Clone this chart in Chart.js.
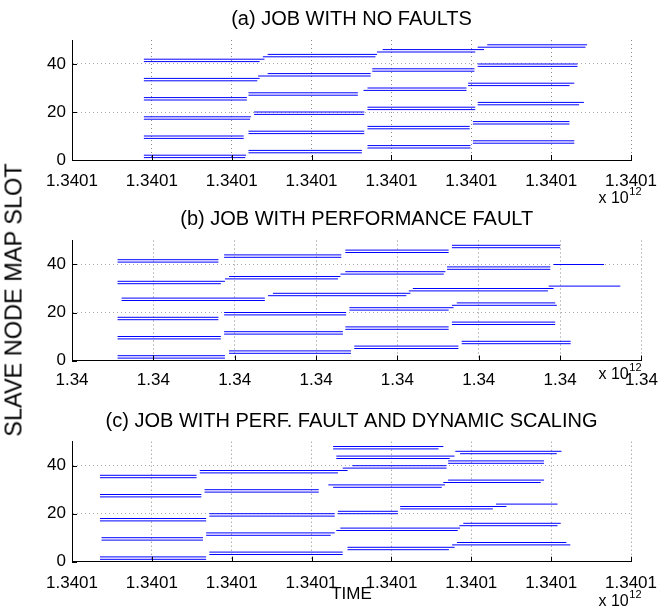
<!DOCTYPE html>
<html>
<head>
<meta charset="utf-8">
<script src="https://cdn.jsdelivr.net/npm/chart.js@4.4.0/dist/chart.umd.min.js"></script>
<style>
  html, body { margin: 0; padding: 0; background: #fff; }
  #page { position: relative; width: 668px; height: 611px; overflow: hidden;
          font-family: "Liberation Sans", Arial, sans-serif; }
  .panel { position: absolute; left: 0; }
  #ylabel { position: absolute; left: 14px; top: 300px; white-space: nowrap;
            transform: translate(-50%, -50%) rotate(-90deg); font-size: 23.5px; color: #000; }
</style>
</head>
<body>
<div id="page">
  <canvas id="cA" class="panel" width="668" height="205" style="top:0px"></canvas>
  <canvas id="cB" class="panel" width="668" height="200" style="top:205px"></canvas>
  <canvas id="cC" class="panel" width="668" height="206" style="top:405px"></canvas>
  <div id="ylabel">SLAVE NODE MAP SLOT</div>
</div>
<script>
// Map task timelines: one horizontal segment per task, on the map slot it ran in.
// Times are seconds after each job's base timestamp (epoch milliseconds).

// (a) job with no faults
const baseA  = 1340110000000;
const slotsA = [1, 2, 9, 10, 17, 18, 25, 26, 33, 34, 41, 42,
                3, 4, 11, 12, 19, 20, 27, 28, 35, 36, 43, 44,
                5, 6, 13, 14, 21, 22, 29, 30, 37, 38, 45, 46,
                7, 8, 15, 16, 23, 24, 31, 32, 39, 40, 47, 48];
const startA = [90, 90, 90, 90, 90, 90, 90, 90, 90, 90, 90, 90,
                221, 221, 221, 221, 228, 228, 221, 221, 233, 245, 239, 245,
                370, 370, 370, 370, 370, 370, 365, 370, 376, 376, 382, 389,
                502, 502, 502, 502, 508, 508, 496, 496, 508, 508, 508, 520];
const endA   = [217, 218, 215, 215, 223, 224, 219, 219, 232, 235, 235, 241,
                363, 363, 366, 366, 366, 366, 358, 358, 374, 374, 380, 382,
                499, 499, 498, 498, 505, 505, 494, 494, 504, 504, 505, 516,
                629, 629, 623, 623, 635, 641, 623, 629, 633, 633, 643, 645];

// (b) job with a performance fault
const baseB  = 1340030000000;
const slotsB = [1, 2, 9, 10, 17, 18, 25, 26, 32, 33, 41, 42,
                3, 4, 11, 12, 19, 20, 27, 28, 34, 35, 43, 44,
                5, 6, 13, 14, 21, 22, 29, 30, 36, 37, 45, 46,
                7, 8, 15, 16, 23, 24, 31, 38, 39, 40, 47, 48];
const startB = [56, 56, 56, 56, 56, 56, 61, 61, 56, 56, 56, 56,
                193, 193, 187, 187, 187, 187, 241, 247, 188, 193, 187, 187,
                347, 347, 336, 336, 341, 341, 414, 419, 330, 336, 336, 336,
                479, 479, 467, 467, 467, 473, 586, 461, 461, 592, 467, 467];
const endB   = [188, 188, 183, 183, 180, 180, 237, 237, 183, 188, 180, 180,
                343, 343, 333, 333, 337, 337, 411, 416, 327, 330, 331, 331,
                475, 475, 463, 463, 463, 469, 585, 592, 457, 459, 463, 463,
                613, 613, 594, 594, 596, 594, 674, 588, 588, 654, 600, 600];

// (c) job with a performance fault and dynamic scaling
const baseC  = 1340130000000;
const slotsC = [1, 2, 9, 10, 17, 18, 27, 28, 35, 36,
                3, 4, 11, 12, 19, 20, 29, 30, 37, 38,
                5, 6, 13, 14, 20, 21, 31, 32, 39, 40, 43, 44, 47, 48,
                7, 8, 15, 16, 22, 23, 24, 33, 34, 41, 42, 45, 46];
const startC = [35, 35, 37, 37, 35, 35, 35, 35, 35, 35,
                172, 172, 168, 168, 172, 172, 166, 166, 160, 160,
                345, 345, 331, 336, 333, 333, 327, 321, 339, 351, 331, 331, 327, 327,
                476, 482, 485, 490, 411, 411, 531, 465, 471, 471, 471, 486, 480];
const endC   = [168, 168, 164, 164, 168, 168, 162, 162, 156, 156,
                339, 339, 324, 329, 329, 329, 309, 309, 333, 345,
                472, 479, 483, 486, 408, 408, 463, 467, 469, 469, 473, 479, 459, 465,
                624, 619, 608, 612, 527, 544, 608, 587, 591, 591, 591, 607, 613];

// Axis ticks: seconds after the base time, and map slots
const timeTicks = [0, 100, 200, 300, 400, 500, 600, 700];
const slotTicks = [0, 20, 40];
const slotMax = 50;

const FONT = '"Liberation Sans", Arial, Helvetica, sans-serif';
const LINE_BLUE = 'rgb(0,0,255)';

// Tick marks drawn inward from the axes, plus the "x 10^12" exponent note.
const axisExtras = {
  id: 'axisExtras',
  afterDraw(chart, args, opts) {
    const ctx = chart.ctx, xs = chart.scales.x, ys = chart.scales.y, a = chart.chartArea;
    ctx.save();
    ctx.strokeStyle = '#000';
    ctx.lineWidth = 1;
    ctx.beginPath();
    xs.ticks.forEach(t => {
      const px = Math.round(xs.getPixelForValue(t.value)) + 0.5;
      ctx.moveTo(px, a.bottom);
      ctx.lineTo(px, a.bottom - 5);
    });
    ys.ticks.forEach(t => {
      const py = Math.round(ys.getPixelForValue(t.value)) + 0.5;
      ctx.moveTo(a.left, py);
      ctx.lineTo(a.left + 5, py);
    });
    ctx.stroke();
    // exponent note
    ctx.fillStyle = '#000';
    ctx.textBaseline = 'alphabetic';
    ctx.textAlign = 'left';
    ctx.font = '16px ' + FONT;
    const base = 'x 10';
    const w = ctx.measureText(base).width;
    ctx.font = '11px ' + FONT;
    const w2 = ctx.measureText('12').width;
    const x0 = opts.right - w - w2;
    ctx.font = '16px ' + FONT;
    ctx.fillText(base, x0, opts.baseline);
    ctx.font = '11px ' + FONT;
    ctx.fillText('12', x0 + w + 0.5, opts.baseline - 8);
    ctx.restore();
  }
};

function makePanel(id, titleText, base, slots, starts, ends, geo) {
  const datasets = slots.map((s, i) => ({
    data: [{ x: base + starts[i] * 1000, y: s }, { x: base + ends[i] * 1000, y: s }],
    borderColor: LINE_BLUE,
    borderWidth: 1,
    pointRadius: 0,
    fill: false,
    tension: 0
  }));
  const canvas = document.getElementById(id);
  const H = canvas.height;
  return new Chart(canvas, {
    type: 'line',
    data: { datasets },
    plugins: [axisExtras],
    options: {
      responsive: false,
      animation: false,
      events: [],
      layout: { padding: { left: 0, right: 25, top: 0, bottom: 0 } },
      plugins: {
        legend: { display: false },
        tooltip: { enabled: false },
        title: {
          display: true,
          fullSize: false,
          text: titleText,
          color: '#000',
          font: { family: FONT, size: 20, weight: 'normal', lineHeight: 1.2 },
          padding: { top: geo.areaTop - 32.6, bottom: 8.6 }
        },
        axisExtras: { right: 641, baseline: geo.expBaseline }
      },
      scales: {
        x: {
          type: 'linear',
          min: base + timeTicks[0] * 1000,
          max: base + timeTicks[timeTicks.length - 1] * 1000,
          afterBuildTicks: s => { s.ticks = timeTicks.map(v => ({ value: base + v * 1000 })); },
          afterFit: s => { s.height = H - geo.areaBottom; },
          ticks: {
            autoSkip: false, maxRotation: 0, color: '#000', padding: geo.xPad,
            font: { family: FONT, size: 17 },
            callback: v => String(Number((v / 1e12).toFixed(4)))
          },
          grid: { color: '#888', drawTicks: false, lineWidth: 1 },
          border: { color: '#000', width: 1, dash: [1, 3] },
          title: geo.xTitle ? {
            display: true, text: geo.xTitle, color: '#000',
            font: { family: FONT, size: 17 }, padding: { top: 0, bottom: geo.xTitleBottom }
          } : { display: false }
        },
        y: {
          type: 'linear',
          min: 0,
          max: slotMax,
          afterBuildTicks: s => { s.ticks = slotTicks.map(v => ({ value: v })); },
          afterFit: s => { s.width = 72; },
          ticks: { color: '#000', padding: 6, font: { family: FONT, size: 17 } },
          grid: { color: '#aaa', drawTicks: false, lineWidth: 1 },
          border: { color: '#000', width: 1, dash: [1, 3] }
        }
      }
    }
  });
}

makePanel('cA', '(a) JOB WITH NO FAULTS', baseA, slotsA, startA, endA,
  { areaTop: 40, areaBottom: 160, xPad: 11, expBaseline: 203 });
makePanel('cB', '(b) JOB WITH PERFORMANCE FAULT', baseB, slotsB, startB, endB,
  { areaTop: 35.5, areaBottom: 155.5, xPad: 10, expBaseline: 174 });
makePanel('cC', '(c) JOB WITH PERF. FAULT AND DYNAMIC SCALING', baseC, slotsC, startC, endC,
  { areaTop: 36.7, areaBottom: 156.7, xPad: 11, expBaseline: 201,
    xTitle: 'TIME', xTitleBottom: 6 });
</script>
</body>
</html>
